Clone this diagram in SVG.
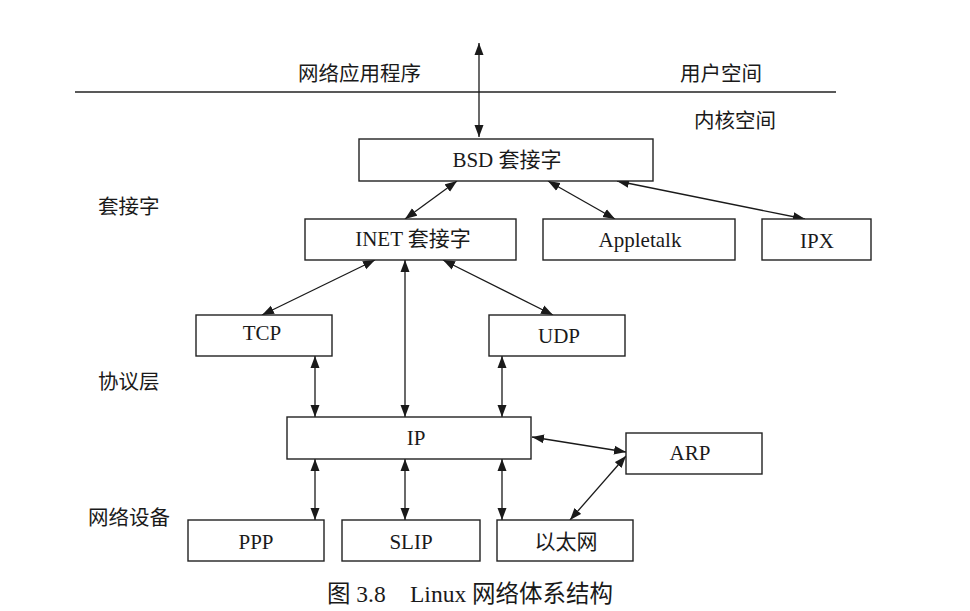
<svg xmlns="http://www.w3.org/2000/svg" width="970" height="611" viewBox="0 0 970 611">
<defs>
<marker id="ah" markerUnits="userSpaceOnUse" markerWidth="12" markerHeight="10" refX="12" refY="4.5" orient="auto-start-reverse" viewBox="0 0 12 9">
<path d="M0,0 L12,4.5 L0,9 z" fill="#1a1a1a"/>
</marker>
<style>
.box{fill:#fff;stroke:#222;stroke-width:1.4}
.t{font-family:"Liberation Serif","Noto Sans CJK SC",serif;font-size:21px;fill:#1a1a1a;text-anchor:middle}
.l{font-family:"Liberation Serif","Noto Sans CJK SC",serif;font-size:20.5px;fill:#1a1a1a}
.cap{font-family:"Liberation Serif","Noto Sans CJK SC",serif;font-size:23.5px;fill:#1a1a1a}
.c{stroke:#1a1a1a;stroke-width:1.3;fill:none;marker-start:url(#ah);marker-end:url(#ah)}
</style>
</defs>
<rect width="970" height="611" fill="#fff"/>
<line x1="75" y1="92" x2="836" y2="92" stroke="#222" stroke-width="1.5"/>
<g id="labels">
<text class="l" x="298" y="81">网络应用程序</text>
<text class="l" x="680" y="81">用户空间</text>
<text class="l" x="694" y="128">内核空间</text>
<text class="l" x="98" y="214">套接字</text>
<text class="l" x="98" y="389">协议层</text>
<text class="l" x="88" y="525">网络设备</text>
<text class="cap" y="602"><tspan x="327">图 3.8</tspan><tspan x="410">Linux 网络体系结构</tspan></text>
</g>
<g id="connectors">
<line class="c" x1="479" y1="43" x2="479" y2="137"/>
<line class="c" x1="457" y1="181" x2="405" y2="219"/>
<line class="c" x1="548" y1="181" x2="615" y2="219"/>
<line class="c" x1="617" y1="181" x2="805" y2="219"/>
<line class="c" x1="375" y1="260" x2="262" y2="315"/>
<line class="c" x1="405" y1="260" x2="405" y2="417"/>
<line class="c" x1="443" y1="260" x2="553" y2="315"/>
<line class="c" x1="315" y1="356" x2="315" y2="417"/>
<line class="c" x1="502" y1="356" x2="502" y2="417"/>
<line class="c" x1="532" y1="437" x2="626" y2="452"/>
<line class="c" x1="315" y1="459" x2="315" y2="520"/>
<line class="c" x1="405" y1="459" x2="405" y2="520"/>
<line class="c" x1="502" y1="459" x2="502" y2="520"/>
<line class="c" x1="626" y1="456" x2="570" y2="520"/>
</g>
<g id="bsd"><rect class="box" x="359" y="139" width="294" height="42"/><text class="t" x="507" y="167">BSD 套接字</text></g>
<g id="inet"><rect class="box" x="305" y="219" width="211" height="41"/><text class="t" x="413" y="246">INET 套接字</text></g>
<g id="appletalk"><rect class="box" x="543" y="219" width="192" height="41"/><text class="t" x="640" y="247">Appletalk</text></g>
<g id="ipx"><rect class="box" x="762" y="219" width="109" height="41"/><text class="t" x="817" y="248">IPX</text></g>
<g id="tcp"><rect class="box" x="196" y="315" width="136" height="41"/><text class="t" x="262" y="340">TCP</text></g>
<g id="udp"><rect class="box" x="489" y="315" width="136" height="41"/><text class="t" x="559" y="343">UDP</text></g>
<g id="ip"><rect class="box" x="287" y="417" width="244" height="42"/><text class="t" x="416" y="445">IP</text></g>
<g id="arp"><rect class="box" x="626" y="433" width="136" height="41"/><text class="t" x="690" y="460">ARP</text></g>
<g id="ppp"><rect class="box" x="188" y="520" width="136" height="41"/><text class="t" x="256" y="549">PPP</text></g>
<g id="slip"><rect class="box" x="342" y="520" width="138" height="41"/><text class="t" x="411" y="549">SLIP</text></g>
<g id="ethernet"><rect class="box" x="497" y="520" width="136" height="41"/><text class="t" x="566" y="549">以太网</text></g>
</svg>
